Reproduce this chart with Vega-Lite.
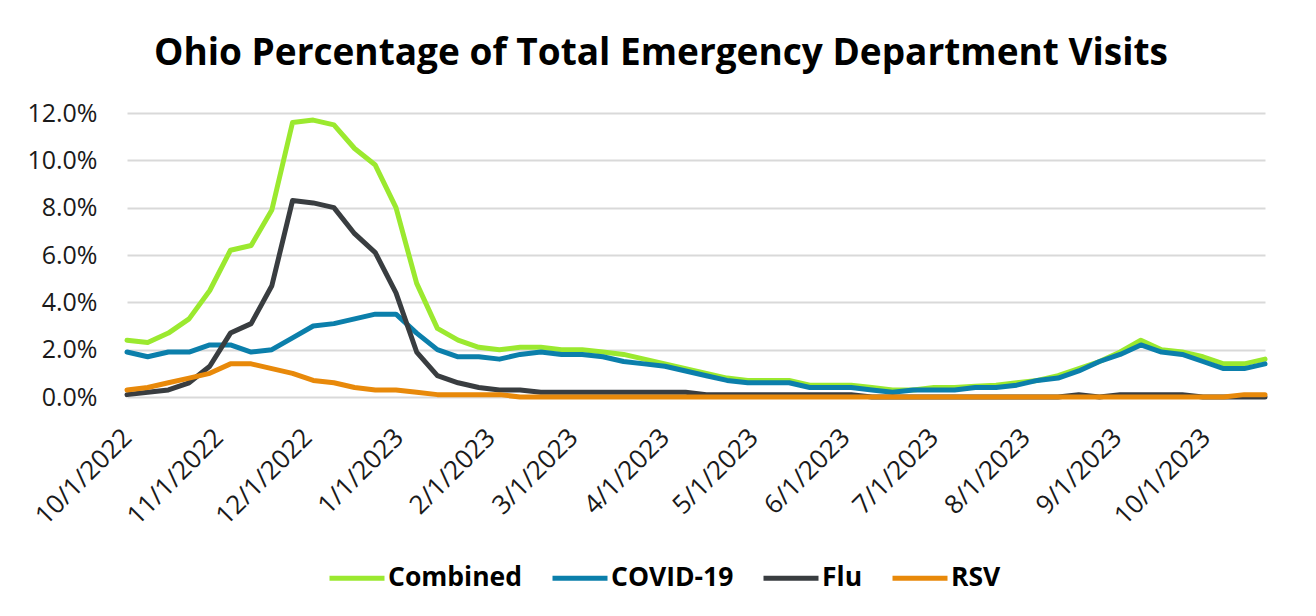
{
  "$schema": "https://vega.github.io/schema/vega-lite/v6.json",
  "autosize": {"type": "none"},
  "width": 1138,
  "height": 284,
  "padding": {"left": 127, "top": 113, "right": 51, "bottom": 219},
  "background": "white",
  "title": {
    "text": "Ohio Percentage of Total Emergency Department Visits",
    "font": "Open Sans",
    "fontSize": 37,
    "fontWeight": "bold",
    "color": "#000000",
    "anchor": "middle",
    "frame": "group",
    "dx": -35,
    "offset": 28
  },
  "data": {
    "values": [
      {"date": "2022-10-01", "Combined": 2.4, "COVID-19": 1.9, "Flu": 0.1, "RSV": 0.3},
      {"date": "2022-10-08", "Combined": 2.3, "COVID-19": 1.7, "Flu": 0.2, "RSV": 0.4},
      {"date": "2022-10-15", "Combined": 2.7, "COVID-19": 1.9, "Flu": 0.3, "RSV": 0.6},
      {"date": "2022-10-22", "Combined": 3.3, "COVID-19": 1.9, "Flu": 0.6, "RSV": 0.8},
      {"date": "2022-10-29", "Combined": 4.5, "COVID-19": 2.2, "Flu": 1.3, "RSV": 1.0},
      {"date": "2022-11-05", "Combined": 6.2, "COVID-19": 2.2, "Flu": 2.7, "RSV": 1.4},
      {"date": "2022-11-12", "Combined": 6.4, "COVID-19": 1.9, "Flu": 3.1, "RSV": 1.4},
      {"date": "2022-11-19", "Combined": 7.9, "COVID-19": 2.0, "Flu": 4.7, "RSV": 1.2},
      {"date": "2022-11-26", "Combined": 11.6, "COVID-19": 2.5, "Flu": 8.3, "RSV": 1.0},
      {"date": "2022-12-03", "Combined": 11.7, "COVID-19": 3.0, "Flu": 8.2, "RSV": 0.7},
      {"date": "2022-12-10", "Combined": 11.5, "COVID-19": 3.1, "Flu": 8.0, "RSV": 0.6},
      {"date": "2022-12-17", "Combined": 10.5, "COVID-19": 3.3, "Flu": 6.9, "RSV": 0.4},
      {"date": "2022-12-24", "Combined": 9.8, "COVID-19": 3.5, "Flu": 6.1, "RSV": 0.3},
      {"date": "2022-12-31", "Combined": 8.0, "COVID-19": 3.5, "Flu": 4.4, "RSV": 0.3},
      {"date": "2023-01-07", "Combined": 4.8, "COVID-19": 2.7, "Flu": 1.9, "RSV": 0.2},
      {"date": "2023-01-14", "Combined": 2.9, "COVID-19": 2.0, "Flu": 0.9, "RSV": 0.1},
      {"date": "2023-01-21", "Combined": 2.4, "COVID-19": 1.7, "Flu": 0.6, "RSV": 0.1},
      {"date": "2023-01-28", "Combined": 2.1, "COVID-19": 1.7, "Flu": 0.4, "RSV": 0.1},
      {"date": "2023-02-04", "Combined": 2.0, "COVID-19": 1.6, "Flu": 0.3, "RSV": 0.1},
      {"date": "2023-02-11", "Combined": 2.1, "COVID-19": 1.8, "Flu": 0.3, "RSV": 0.0},
      {"date": "2023-02-18", "Combined": 2.1, "COVID-19": 1.9, "Flu": 0.2, "RSV": 0.0},
      {"date": "2023-02-25", "Combined": 2.0, "COVID-19": 1.8, "Flu": 0.2, "RSV": 0.0},
      {"date": "2023-03-04", "Combined": 2.0, "COVID-19": 1.8, "Flu": 0.2, "RSV": 0.0},
      {"date": "2023-03-11", "Combined": 1.9, "COVID-19": 1.7, "Flu": 0.2, "RSV": 0.0},
      {"date": "2023-03-18", "Combined": 1.8, "COVID-19": 1.5, "Flu": 0.2, "RSV": 0.0},
      {"date": "2023-03-25", "Combined": 1.6, "COVID-19": 1.4, "Flu": 0.2, "RSV": 0.0},
      {"date": "2023-04-01", "Combined": 1.4, "COVID-19": 1.3, "Flu": 0.2, "RSV": 0.0},
      {"date": "2023-04-08", "Combined": 1.2, "COVID-19": 1.1, "Flu": 0.2, "RSV": 0.0},
      {"date": "2023-04-15", "Combined": 1.0, "COVID-19": 0.9, "Flu": 0.1, "RSV": 0.0},
      {"date": "2023-04-22", "Combined": 0.8, "COVID-19": 0.7, "Flu": 0.1, "RSV": 0.0},
      {"date": "2023-04-29", "Combined": 0.7, "COVID-19": 0.6, "Flu": 0.1, "RSV": 0.0},
      {"date": "2023-05-06", "Combined": 0.7, "COVID-19": 0.6, "Flu": 0.1, "RSV": 0.0},
      {"date": "2023-05-13", "Combined": 0.7, "COVID-19": 0.6, "Flu": 0.1, "RSV": 0.0},
      {"date": "2023-05-20", "Combined": 0.5, "COVID-19": 0.4, "Flu": 0.1, "RSV": 0.0},
      {"date": "2023-05-27", "Combined": 0.5, "COVID-19": 0.4, "Flu": 0.1, "RSV": 0.0},
      {"date": "2023-06-03", "Combined": 0.5, "COVID-19": 0.4, "Flu": 0.1, "RSV": 0.0},
      {"date": "2023-06-10", "Combined": 0.4, "COVID-19": 0.3, "Flu": 0.0, "RSV": 0.0},
      {"date": "2023-06-17", "Combined": 0.3, "COVID-19": 0.2, "Flu": 0.0, "RSV": 0.0},
      {"date": "2023-06-24", "Combined": 0.3, "COVID-19": 0.3, "Flu": 0.0, "RSV": 0.0},
      {"date": "2023-07-01", "Combined": 0.4, "COVID-19": 0.3, "Flu": 0.0, "RSV": 0.0},
      {"date": "2023-07-08", "Combined": 0.4, "COVID-19": 0.3, "Flu": 0.0, "RSV": 0.0},
      {"date": "2023-07-15", "Combined": 0.45, "COVID-19": 0.4, "Flu": 0.0, "RSV": 0.0},
      {"date": "2023-07-22", "Combined": 0.5, "COVID-19": 0.4, "Flu": 0.0, "RSV": 0.0},
      {"date": "2023-07-29", "Combined": 0.6, "COVID-19": 0.5, "Flu": 0.0, "RSV": 0.0},
      {"date": "2023-08-05", "Combined": 0.7, "COVID-19": 0.7, "Flu": 0.0, "RSV": 0.0},
      {"date": "2023-08-12", "Combined": 0.9, "COVID-19": 0.8, "Flu": 0.0, "RSV": 0.0},
      {"date": "2023-08-19", "Combined": 1.2, "COVID-19": 1.1, "Flu": 0.1, "RSV": 0.0},
      {"date": "2023-08-26", "Combined": 1.5, "COVID-19": 1.5, "Flu": 0.0, "RSV": 0.0},
      {"date": "2023-09-02", "Combined": 1.9, "COVID-19": 1.8, "Flu": 0.1, "RSV": 0.0},
      {"date": "2023-09-09", "Combined": 2.4, "COVID-19": 2.2, "Flu": 0.1, "RSV": 0.0},
      {"date": "2023-09-16", "Combined": 2.0, "COVID-19": 1.9, "Flu": 0.1, "RSV": 0.0},
      {"date": "2023-09-23", "Combined": 1.9, "COVID-19": 1.8, "Flu": 0.1, "RSV": 0.0},
      {"date": "2023-09-30", "Combined": 1.7, "COVID-19": 1.5, "Flu": 0.0, "RSV": 0.0},
      {"date": "2023-10-07", "Combined": 1.4, "COVID-19": 1.2, "Flu": 0.0, "RSV": 0.0},
      {"date": "2023-10-14", "Combined": 1.4, "COVID-19": 1.2, "Flu": 0.0, "RSV": 0.1},
      {"date": "2023-10-21", "Combined": 1.6, "COVID-19": 1.4, "Flu": 0.0, "RSV": 0.1}
    ]
  },
  "transform": [
    {"fold": ["Combined", "COVID-19", "Flu", "RSV"], "as": ["series", "value"]}
  ],
  "mark": {"type": "line", "strokeWidth": 5, "strokeCap": "round", "strokeJoin": "round"},
  "encoding": {
    "x": {
      "field": "date",
      "type": "temporal",
      "timeUnit": "utcyearmonthdate",
      "title": null,
      "scale": {
        "domain": [
          {"year": 2022, "month": 10, "date": 1, "utc": true},
          {"year": 2023, "month": 10, "date": 21, "utc": true}
        ]
      },
      "axis": {
        "values": [
          {"year": 2022, "month": 10, "date": 1, "utc": true},
          {"year": 2022, "month": 11, "date": 1, "utc": true},
          {"year": 2022, "month": 12, "date": 1, "utc": true},
          {"year": 2023, "month": 1, "date": 1, "utc": true},
          {"year": 2023, "month": 2, "date": 1, "utc": true},
          {"year": 2023, "month": 3, "date": 1, "utc": true},
          {"year": 2023, "month": 4, "date": 1, "utc": true},
          {"year": 2023, "month": 5, "date": 1, "utc": true},
          {"year": 2023, "month": 6, "date": 1, "utc": true},
          {"year": 2023, "month": 7, "date": 1, "utc": true},
          {"year": 2023, "month": 8, "date": 1, "utc": true},
          {"year": 2023, "month": 9, "date": 1, "utc": true},
          {"year": 2023, "month": 10, "date": 1, "utc": true}
        ],
        "format": "%-m/%-d/%Y",
        "labelAngle": -45,
        "labelAlign": "right",
        "labelBaseline": "middle",
        "labelPadding": 36,
        "labelFont": "Open Sans",
        "labelFontSize": 26,
        "labelColor": "#1a1a1a",
        "labelOverlap": false,
        "labelFlush": false,
        "domain": false,
        "ticks": false,
        "grid": false
      }
    },
    "y": {
      "field": "value",
      "type": "quantitative",
      "title": null,
      "scale": {"domain": [0, 12], "nice": false},
      "axis": {
        "values": [0, 2, 4, 6, 8, 10, 12],
        "labelExpr": "format(datum.value, '.1f') + '%'",
        "labelFont": "Open Sans",
        "labelFontSize": 25,
        "labelColor": "#1a1a1a",
        "labelPadding": 30,
        "domain": false,
        "ticks": false,
        "grid": true,
        "gridColor": "#d9d9d9",
        "gridWidth": 2
      }
    },
    "color": {
      "field": "series",
      "type": "nominal",
      "scale": {
        "domain": ["Combined", "COVID-19", "Flu", "RSV"],
        "range": ["#9be92f", "#0b7fab", "#393d40", "#e8890a"]
      },
      "legend": {
        "title": null,
        "orient": "none",
        "legendX": 200,
        "legendY": 435,
        "direction": "horizontal",
        "symbolType": "stroke",
        "symbolSize": 3025,
        "symbolStrokeWidth": 5,
        "labelFont": "Open Sans",
        "labelFontSize": 26.5,
        "labelFontWeight": "bold",
        "labelColor": "#000000",
        "labelOffset": 1,
        "columnPadding": 19
      }
    }
  },
  "config": {
    "view": {"stroke": null}
  }
}
